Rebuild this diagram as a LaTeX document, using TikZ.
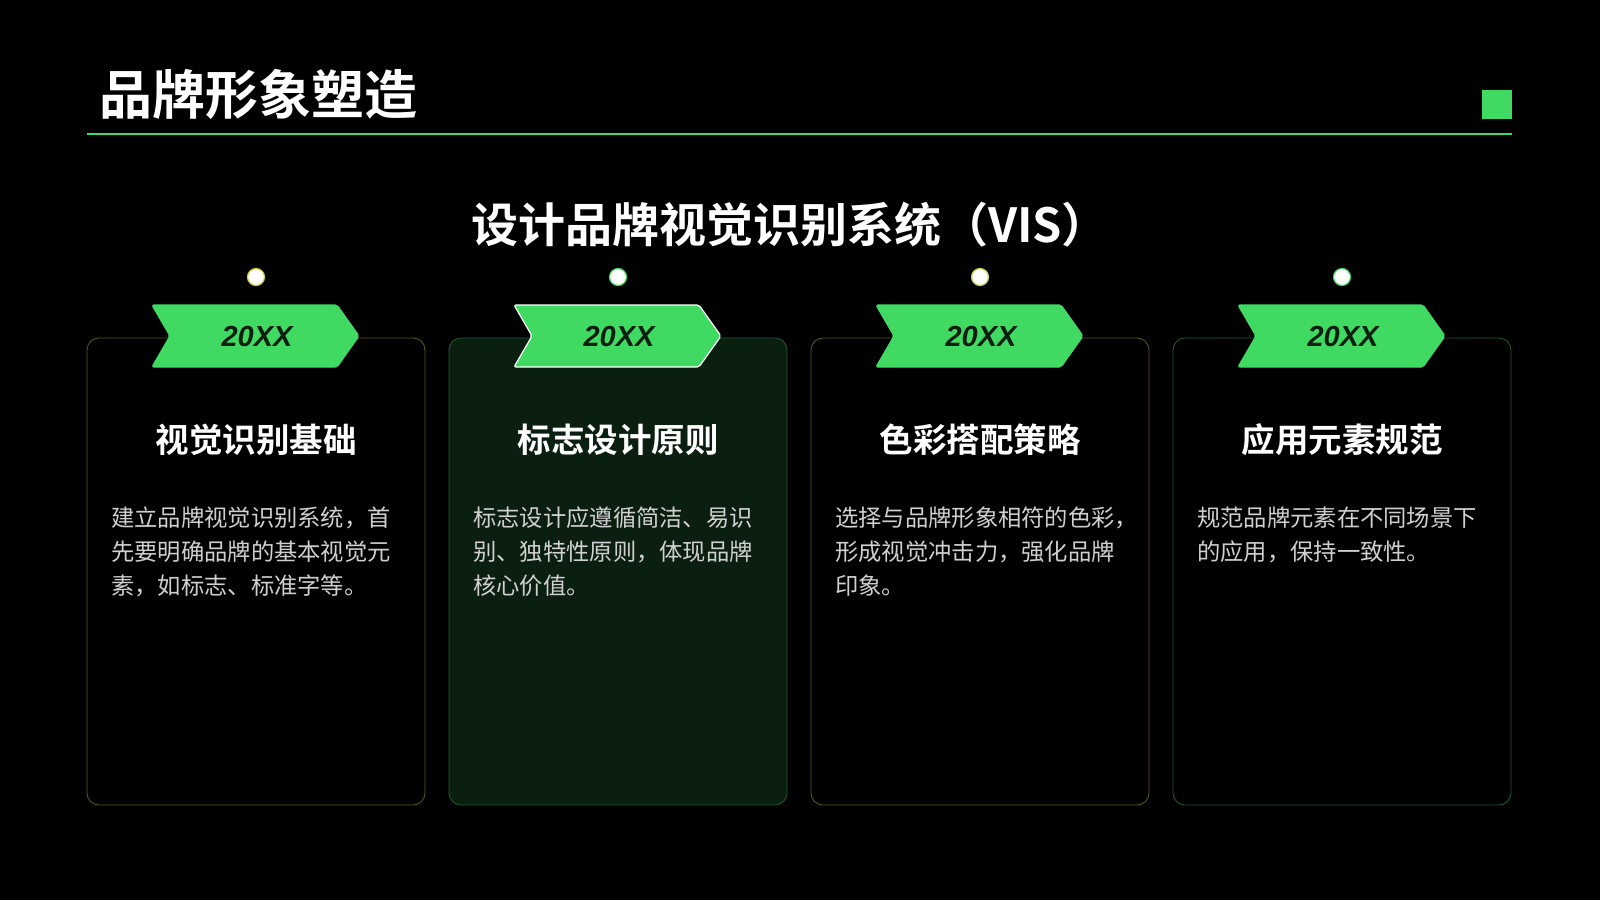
\documentclass[tikz,border=0pt]{standalone}
\usepackage{fontspec}
\newfontfamily\cjk{Noto Sans CJK SC}
\newfontfamily\cjkb{Noto Sans CJK SC Bold}
\setmainfont{Liberation Sans}
\definecolor{gr}{HTML}{40DA63}
\definecolor{dk}{HTML}{0A1F10}
\definecolor{ol}{HTML}{55551A}
\definecolor{dg}{HTML}{22552C}
\definecolor{tx}{HTML}{D0D0D0}
\tikzset{
 card/.style={rounded corners=12pt,line width=0.9pt},
 ctitle/.style={text=white,font=\cjkb\fontsize{33.5}{38}\selectfont},
 body/.style={text=tx,align=left,anchor=north west,inner sep=0pt,font=\cjk\fontsize{23.3}{34}\selectfont},
 yr/.style={text=dk,font=\bfseries\itshape\fontsize{29}{32}\selectfont},
}
\begin{document}
\begin{tikzpicture}[x=1pt,y=-1pt]
\fill[black] (0,0) rectangle (1600,900);
\useasboundingbox (0,0) rectangle (1600,900);
\node[anchor=west,text=white,font=\cjkb\fontsize{53}{60}\selectfont,inner sep=0pt] (t) at (99,94) {品牌形象塑造};
\draw[gr,line width=1.2pt] (87,134) coordinate (l1) -- (1512,134) coordinate (l2);
\fill[gr] (1482,90) rectangle (1512,119);
\node[text=white,font=\cjkb\fontsize{47}{52}\selectfont] (st) at (790,225) {设计品牌视觉识别系统（VIS）};
\foreach \i/\tt/\ba/\bb/\bc/\fillc/\bord/\dot/\bcol in {
 0/视觉识别基础/建立品牌视觉识别系统，首/先要明确品牌的基本视觉元/素，如标志、标准字等。/black/ol/yellow!80!black/gr,
 1/标志设计原则/标志设计应遵循简洁、易识/别、独特性原则，体现品牌/核心价值。/dk/dg/gr/white,
 2/色彩搭配策略/选择与品牌形象相符的色彩，/形成视觉冲击力，强化品牌/印象。/black/ol/yellow!60!gr/gr,
 3/应用元素规范/规范品牌元素在不同场景下/的应用，保持一致性。//black/dg/gr/gr}{
 \begin{scope}[xshift=\i*362]
 \draw[card,draw=\bord,fill=\fillc] (87,338) rectangle (425,805);
 \node[ctitle] (c\i) at (256,440) {\tt};
 \node[body] (b\i) at (111,507) {\ba\\\bb\\\bc};
 \draw[fill=gr,draw=\bcol,line width=1.2pt,rounded corners=2pt] (152,305) -- (337,305) -- (359,336) -- (337,367) -- (152,367) -- (170,336) -- cycle;
 \node[yr] (y\i) at (257,337) {20XX};
 \draw[fill=white,draw=\dot,line width=1.2pt] (256,277) circle (8.5);
 \end{scope}
}
\end{tikzpicture}
\end{document}
